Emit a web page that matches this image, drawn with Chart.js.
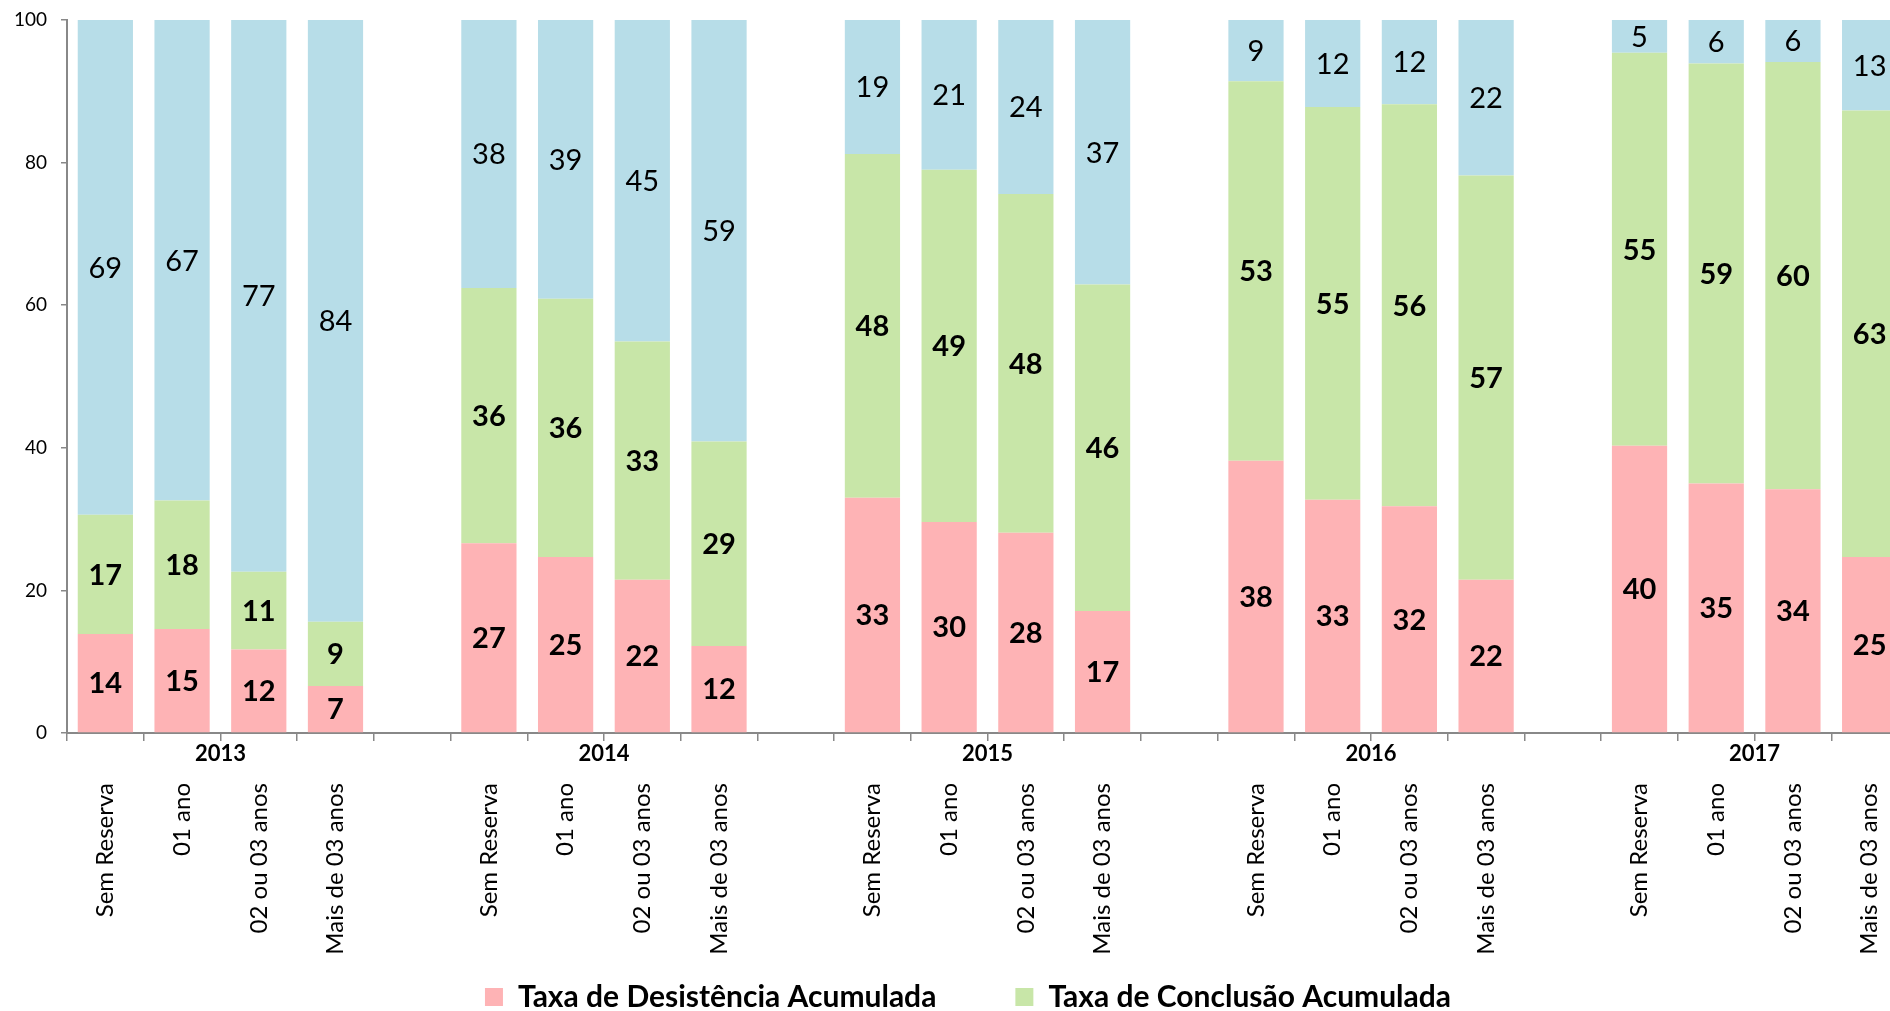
<!DOCTYPE html>
<html><head><meta charset="utf-8">
<script src="https://cdn.jsdelivr.net/npm/chart.js@4"></script>
<style>
html,body{margin:0;padding:0;overflow:hidden;background:#fff;width:1890px;height:1011px}
#wrap{position:absolute;left:0;top:0;width:1991px;height:1092px}
</style></head>
<body><div id="wrap"><canvas id="c" width="1991" height="1092"></canvas></div>
<script>
const years = ['2013','2014','2015','2016','2017'];
const reserveGroups = ['Sem Reserva','01 ano','02 ou 03 anos','Mais de 03 anos'];
const desistencia = [13.9,14.6,11.7,6.6, 26.6,24.7,21.5,12.2, 33.0,29.6,28.1,17.1, 38.2,32.7,31.8,21.5, 40.3,35.0,34.2,24.7];
const conclusao   = [16.7,18.0,10.9,9.0, 35.8,36.2,33.4,28.7, 48.2,49.4,47.5,45.8, 53.2,55.1,56.4,56.7, 55.1,58.9,59.9,62.6];
const retencao    = [69.4,67.4,77.4,84.4, 37.6,39.1,45.1,59.1, 18.8,21.0,24.4,37.1, 8.6,12.2,11.8,21.8, 4.6,6.1,5.9,12.7];
const yTicks = [0,20,40,60,80,100];
const seriesNames = ['Taxa de Desistência Acumulada','Taxa de Conclusão Acumulada','Taxa de Retenção Acumulada'];

// build category slots: 4 bars per year, one empty slot between years
const labels = [];
function withGaps(arr){
  const out = [];
  years.forEach((y, g) => {
    reserveGroups.forEach((r, k) => out.push(arr[g*4+k]));
    if (g < years.length-1) out.push(null);
  });
  return out;
}
years.forEach((y, g) => {
  reserveGroups.forEach(r => labels.push(r));
  if (g < years.length-1) labels.push('');
});

const FONT = 'Lato, "Open Sans", sans-serif';
const AXIS = '#888888';
const CHART_BOTTOM = 733;
const LEGEND_TEXT_Y = 997;
const LEGEND_PAD = 79;
const LEGEND_FONT = 30;
const LEGEND_SHIFT_X = 14;

const valueLabels = {
  id: 'valueLabels',
  afterDatasetsDraw(chart){
    const ctx = chart.ctx;
    ctx.save();
    ctx.textAlign = 'center';
    ctx.textBaseline = 'middle';
    ctx.fillStyle = '#000';
    chart.data.datasets.forEach((ds, i) => {
      const meta = chart.getDatasetMeta(i);
      ctx.font = (i < 2 ? 'bold ' : '') + '29px ' + FONT;
      meta.data.forEach((bar, j) => {
        const v = ds.data[j];
        if (v == null) return;
        ctx.fillText(String(Math.round(v)), bar.x, (bar.y + bar.base)/2 + 1);
      });
    });
    ctx.restore();
  }
};

const yearLabels = {
  id: 'yearLabels',
  afterDraw(chart){
    const ctx = chart.ctx, xs = chart.scales.x;
    ctx.save();
    ctx.textAlign = 'center';
    ctx.textBaseline = 'middle';
    ctx.fillStyle = '#000';
    ctx.font = 'bold 22px ' + FONT;
    years.forEach((y, g) => {
      const x = xs.getPixelForValue(g*5 + 1.5);
      ctx.fillText(y, x, CHART_BOTTOM + 21);
    });
    ctx.restore();
  }
};

// raise the legend so that it sits just under the rotated category labels
const legendPlacement = {
  id: 'legendPlacement',
  afterLayout(chart){
    const lg = chart.legend;
    if (!lg) return;
    const top = LEGEND_TEXT_Y - LEGEND_PAD - LEGEND_FONT/2;
    lg.top = top;
    lg.bottom = top + lg.height;
    lg.left += LEGEND_SHIFT_X;
    lg.right += LEGEND_SHIFT_X;
  }
};

new Chart(document.getElementById('c'), {
  type: 'bar',
  data: {
    labels,
    datasets: [
      {label: seriesNames[0], data: withGaps(desistencia), backgroundColor: '#FEB3B5'},
      {label: seriesNames[1], data: withGaps(conclusao), backgroundColor: '#C8E6A8'},
      {label: seriesNames[2], data: withGaps(retencao), backgroundColor: '#B7DDE8'}
    ]
  },
  options: {
    responsive: false,
    animation: false,
    devicePixelRatio: 1,
    layout: {padding: {top: 20, right: 83, left: 0, bottom: 0}},
    datasets: {bar: {barPercentage: 0.72, categoryPercentage: 1, borderWidth: 0}},
    plugins: {
      tooltip: {enabled: false},
      legend: {
        position: 'bottom',
        labels: {
          filter: item => item.datasetIndex < 2,
          font: {family: FONT, size: LEGEND_FONT, weight: 'bold'},
          color: '#000',
          boxWidth: 18, boxHeight: 18,
          padding: LEGEND_PAD
        }
      }
    },
    scales: {
      x: {
        stacked: true,
        offset: true,
        grid: {offset: true, drawOnChartArea: false, drawTicks: true, tickLength: 8, color: AXIS, lineWidth: 1.5},
        border: {color: AXIS, width: 2},
        ticks: {
          autoSkip: false, minRotation: 90, maxRotation: 90, padding: 42,
          font: {family: FONT, size: 24}, color: '#000'
        },
        afterFit(scale){
          scale.height = scale.chart.height - scale.chart.legend.height - CHART_BOTTOM;
          scale.paddingLeft = 0; scale.paddingRight = 0;
        }
      },
      y: {
        stacked: true,
        min: 0, max: 100,
        afterBuildTicks(scale){ scale.ticks = yTicks.map(v => ({value: v})); },
        grid: {drawOnChartArea: false, drawTicks: true, tickLength: 6, color: AXIS, lineWidth: 1.5},
        border: {color: AXIS, width: 2},
        ticks: {padding: 14, font: {family: FONT, size: 19}, color: '#000'},
        afterFit(scale){ scale.width = 67; scale.paddingTop = 0; scale.paddingBottom = 0; }
      }
    }
  },
  plugins: [valueLabels, yearLabels, legendPlacement]
});
</script>
</body></html>
